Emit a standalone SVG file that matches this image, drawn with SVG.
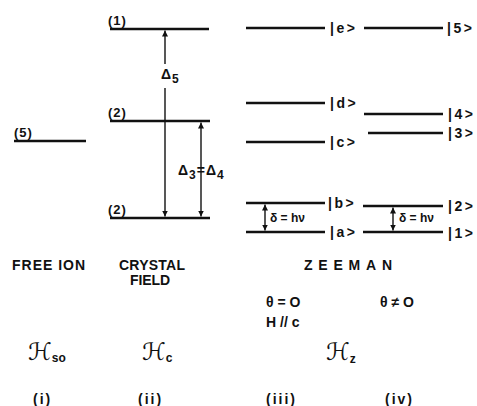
<svg xmlns="http://www.w3.org/2000/svg" width="477" height="406" viewBox="0 0 477 406">
<style>
.lvl{stroke:#111;stroke-width:2.5;fill:none}
.arr{stroke:#111;stroke-width:1.4;fill:none}
text{font-family:"Liberation Sans",Arial,sans-serif;font-weight:bold;fill:#111}
.lab{font-size:13px;letter-spacing:1px}
.num{font-size:14px;letter-spacing:2px}
.ket{font-size:14px;letter-spacing:2.5px}
.cap{font-size:14px}
.th{font-size:14px}
.sm{font-size:12px}
.scr{font-family:"DejaVu Serif","DejaVu Sans",serif;font-weight:normal;font-style:italic;font-size:24px}
.sub{font-size:11px}
.subs{font-size:12px;font-style:normal;font-family:"Liberation Sans",Arial,sans-serif;font-weight:bold}
</style>
<defs>
<marker id="ah" viewBox="0 0 10 10" refX="10" refY="5" markerWidth="6" markerHeight="7" markerUnits="userSpaceOnUse" orient="auto-start-reverse">
<path d="M0,0 L10,5 L0,10 z" fill="#111"/>
</marker>
</defs>
<rect width="477" height="406" fill="#fff"/>

<!-- Free ion -->
<g id="free5"><line class="lvl" x1="14" y1="141" x2="86" y2="141"/><text class="lab" x="14" y="137">(5)</text></g>

<!-- Crystal field -->
<g id="cf1"><line class="lvl" x1="110" y1="29" x2="209" y2="29"/><text class="lab" x="108" y="25">(1)</text></g>
<g id="cf2u"><line class="lvl" x1="110" y1="121" x2="210" y2="121"/><text class="lab" x="108" y="117">(2)</text></g>
<g id="cf2l"><line class="lvl" x1="110" y1="218" x2="210" y2="218"/><text class="lab" x="108" y="214">(2)</text></g>

<!-- Zeeman theta = 0 -->
<g id="ze"><line class="lvl" x1="246" y1="28" x2="325" y2="28"/><text class="ket" x="330" y="33">|e&gt;</text></g>
<g id="zd"><line class="lvl" x1="246" y1="103" x2="325" y2="103"/><text class="ket" x="330" y="108">|d&gt;</text></g>
<g id="zc"><line class="lvl" x1="246" y1="142" x2="325" y2="142"/><text class="ket" x="330" y="147">|c&gt;</text></g>
<g id="zb"><line class="lvl" x1="246" y1="203" x2="325" y2="203"/><text class="ket" x="328" y="208">|b&gt;</text></g>
<g id="za"><line class="lvl" x1="246" y1="232" x2="325" y2="232"/><text class="ket" x="330" y="237">|a&gt;</text></g>

<!-- Zeeman theta != 0 -->
<g id="z5"><line class="lvl" x1="364" y1="28" x2="443" y2="28"/><text class="ket" x="447" y="33">|5&gt;</text></g>
<g id="z4"><line class="lvl" x1="364" y1="114" x2="443" y2="114"/><text class="ket" x="448" y="119">|4&gt;</text></g>
<g id="z3"><line class="lvl" x1="368" y1="133" x2="443" y2="133"/><text class="ket" x="448" y="138">|3&gt;</text></g>
<g id="z2"><line class="lvl" x1="363" y1="206" x2="443" y2="206"/><text class="ket" x="448" y="211">|2&gt;</text></g>
<g id="z1"><line class="lvl" x1="363" y1="232" x2="443" y2="232"/><text class="ket" x="448" y="238">|1&gt;</text></g>

<!-- Connectors -->
<g id="connectors">
<line class="arr" x1="165" y1="64" x2="165" y2="30.5" marker-end="url(#ah)"/>
<line class="arr" x1="165" y1="88" x2="165" y2="216.5" marker-end="url(#ah)"/>
<line class="arr" x1="201" y1="122.5" x2="201" y2="216.5" marker-start="url(#ah)" marker-end="url(#ah)"/>
<line class="arr" x1="265" y1="204.5" x2="265" y2="230.5" marker-start="url(#ah)" marker-end="url(#ah)"/>
<line class="arr" x1="393" y1="207.5" x2="393" y2="230.5" marker-start="url(#ah)" marker-end="url(#ah)"/>
</g>

<!-- Arrow labels -->
<g id="delta5"><text class="cap" x="161" y="79">Δ<tspan class="subs" dx="1" dy="4">5</tspan></text></g>
<g id="delta34"><text class="cap" x="178" y="175">Δ<tspan class="subs" dx="1" dy="4">3</tspan><tspan dx="1" dy="-4">=</tspan><tspan dx="1">Δ</tspan><tspan class="subs" dx="1" dy="4">4</tspan></text></g>
<g id="split1"><text class="sm" x="270" y="222">δ = hν</text></g>
<g id="split2"><text class="sm" x="399" y="222">δ = hν</text></g>

<!-- Column captions -->
<g id="captions">
<text class="cap" x="12" y="270" textLength="73" lengthAdjust="spacing">FREE  ION</text>
<text class="cap" x="119" y="270" textLength="66" lengthAdjust="spacing">CRYSTAL</text>
<text class="cap" x="130" y="285" textLength="40" lengthAdjust="spacing">FIELD</text>
<text class="cap" x="304" y="270" textLength="88" lengthAdjust="spacing">ZEEMAN</text>
<text class="th" x="266" y="307">θ = O</text>
<text class="th" x="266" y="327">H // c</text>
<text class="th" x="380" y="307">θ ≠ O</text>
<text class="scr" x="28" y="360">ℋ<tspan class="subs" dy="2">so</tspan></text>
<text class="scr" x="142" y="360">ℋ<tspan class="subs" dy="2">c</tspan></text>
<text class="scr" x="326" y="360">ℋ<tspan class="subs" dy="3">z</tspan></text>
<text class="num" x="33" y="404">(i)</text>
<text class="num" x="138" y="404">(ii)</text>
<text class="num" x="266" y="404">(iii)</text>
<text class="num" x="385" y="404">(iv)</text>
</g>
</svg>
